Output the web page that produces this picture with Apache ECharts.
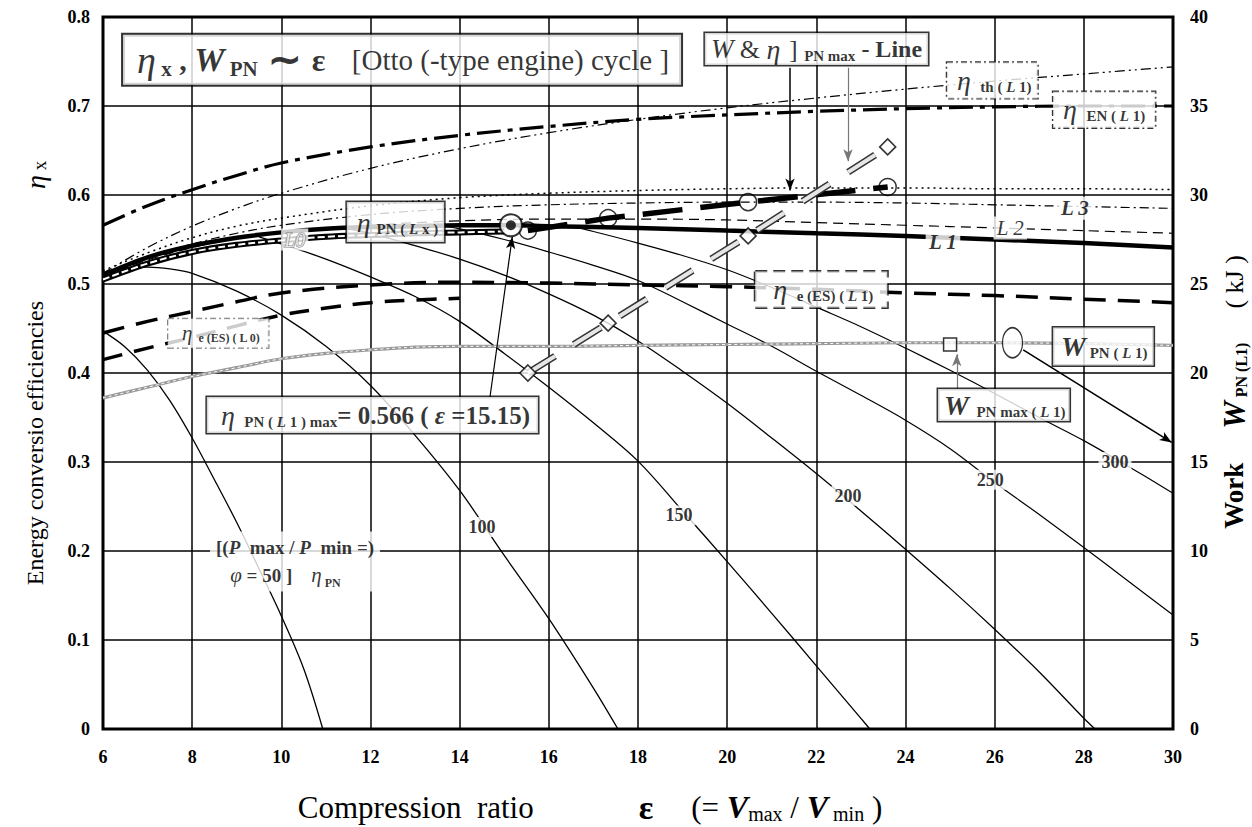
<!DOCTYPE html>
<html><head><meta charset="utf-8">
<script src="https://cdn.jsdelivr.net/npm/echarts@6/dist/echarts.min.js"></script>
<style>html,body{margin:0;padding:0;background:#fff}#c{width:1252px;height:827px}</style>
</head><body><div id="c"></div>
<script>
// ---------- axes ----------
const xMin = 6, xMax = 30, xStep = 2;
const etaMin = 0, etaMax = 0.8, etaStep = 0.1;
const wMin = 0, wMaxAxis = 40, wStep = 5;

// ---------- curves [epsilon, value] ----------
const etaTh = [[6,0.512],[7,0.541],[8,0.565],[9,0.585],[10,0.602],[12,0.630],[14,0.652],[16,0.670],[18,0.685],[20,0.698],[22,0.709],[24,0.719],[26,0.728],[28,0.736],[30,0.744]];
const etaEN = [[6,0.566],[7,0.588],[8,0.606],[9,0.622],[10,0.636],[12,0.654],[14,0.667],[16,0.677],[18,0.685],[20,0.690],[22,0.694],[24,0.697],[26,0.699],[28,0.700],[30,0.700]];
const pnTop = [[6,0.515],[7,0.535],[8,0.552],[9,0.565],[10,0.574],[12,0.588],[14,0.597],[16,0.602],[18,0.605],[20,0.607],[22,0.608],[24,0.608],[26,0.607],[28,0.607],[30,0.606]];
const pnL3 = [[6,0.510],[7,0.530],[8,0.545],[9,0.557],[10,0.566],[12,0.578],[14,0.585],[16,0.589],[18,0.591],[20,0.592],[22,0.592],[24,0.591],[26,0.589],[28,0.587],[30,0.585]];
const pnL2 = [[6,0.510],[7,0.527],[8,0.541],[9,0.551],[10,0.558],[12,0.566],[14,0.571],[16,0.573],[18,0.573],[20,0.572],[22,0.569],[24,0.566],[26,0.563],[28,0.560],[30,0.557]];
const pnL1 = [[6,0.510],[7,0.530],[8,0.543],[9,0.552],[10,0.558],[11,0.562],[12,0.564],[13,0.565],[14,0.566],[15.15,0.566],[16,0.565],[18,0.563],[20,0.560],[22,0.557],[24,0.554],[26,0.550],[28,0.546],[30,0.541]];
const pnLx = [[6,0.505],[7,0.523],[8,0.536],[9,0.544],[10,0.549],[11,0.553],[12,0.555],[13,0.557],[14,0.558],[15,0.559]];
const eES1 = [[6,0.445],[7,0.458],[8,0.469],[9,0.480],[10,0.490],[12,0.499],[14,0.502],[16,0.501],[18,0.499],[20,0.497],[22,0.494],[24,0.490],[26,0.487],[28,0.483],[30,0.479]];
const eES0 = [[6,0.415],[7,0.428],[8,0.440],[9,0.453],[10,0.465],[11,0.473],[12,0.479],[13,0.482],[14,0.484]];
const wPN = [[6,18.6],[7,19.2],[8,19.8],[9,20.3],[10,20.8],[11,21.1],[12,21.3],[13,21.45],[14,21.5],[16,21.5],[18,21.55],[20,21.6],[22,21.65],[24,21.7],[25,21.7],[26,21.7],[28,21.65],[30,21.55]];
const phi50 = [[6,0.447],[6.5,0.429],[7,0.403],[7.5,0.369],[8,0.327],[8.5,0.280],[9,0.232],[9.5,0.180],[10,0.127],[10.5,0.068],[10.93,0]];
const phi100 = [[6,0.513],[6.5,0.518],[7,0.519],[7.5,0.517],[8,0.512],[9,0.492],[10,0.465],[11,0.430],[12,0.386],[13,0.330],[14,0.268],[15,0.195],[16,0.124],[17,0.046],[17.55,0]];
const phi150 = [[9.5,0.553],[10,0.545],[11,0.528],[12,0.508],[13,0.486],[14,0.458],[15,0.422],[16,0.384],[17,0.344],[18,0.301],[19,0.245],[20,0.188],[21,0.130],[22,0.071],[23,0.012],[23.2,0]];
const phi200 = [[11.5,0.562],[12,0.557],[13,0.543],[14,0.528],[15,0.510],[16,0.489],[17,0.465],[18,0.436],[19,0.402],[20,0.366],[21,0.327],[22,0.287],[23,0.245],[24,0.202],[25,0.158],[26,0.112],[27,0.064],[28,0.012],[28.25,0]];
const phi250 = [[13.5,0.566],[14,0.562],[15,0.550],[16,0.536],[17,0.521],[18,0.504],[19,0.480],[20,0.455],[21,0.430],[22,0.402],[23,0.375],[24,0.347],[25,0.315],[26,0.277],[27,0.241],[28,0.204],[29,0.166],[30,0.128]];
const phi300 = [[16.5,0.565],[17,0.559],[18,0.546],[19,0.532],[20,0.516],[21,0.496],[22,0.474],[23,0.452],[24,0.428],[25,0.403],[26,0.377],[27,0.350],[28,0.324],[29,0.295],[30,0.265]];

// ---------- marked points ----------
const etaMaxPts = [[15.53,0.560],[17.33,0.574],[20.47,0.592],[23.60,0.609]];
const wMaxPts = [[15.53,20.0],[17.33,22.8],[20.47,27.7],[23.60,32.7]];
const etaL1Max = [[15.15,0.566]];
const wPNmaxPt = [[25.0,21.6]];
const wPNmark = [[26.4,21.7]];
const phiLabels = ['100','150','200','250','300'];

const SERIF = 'Liberation Serif';
const K = '#000';

function curve(data, ls, extra) {
  return Object.assign({type:'line', data, symbol:'none', showSymbol:false, smooth:0.35, silent:true, z:3,
    lineStyle:Object.assign({color:K, width:1.3, cap:'butt'}, ls)}, extra || {});
}
function tok(size, opt) { return Object.assign({fontFamily:SERIF, fontSize:size, color:K}, opt || {}); }
const R = {
  eta: tok(28, {fontStyle:'italic', padding:[0,2,0,0]}),
  sub: tok(15, {fontWeight:'bold', verticalAlign:'bottom'}),
  subi: tok(15, {fontWeight:'bold', fontStyle:'italic', verticalAlign:'bottom'}),
  Wi: tok(28, {fontStyle:'italic', fontWeight:'bold'}),
  Wi2: tok(27, {fontStyle:'italic'}),
  big: tok(25, {fontWeight:'bold'}),
  bigi: tok(25, {fontWeight:'bold', fontStyle:'italic'}),
  line: tok(24, {fontWeight:'bold'}),
  reg: tok(26),
  eta3: tok(38, {fontStyle:'italic'}),
  sub3: tok(21, {fontWeight:'bold', verticalAlign:'bottom'}),
  W3: tok(34, {fontStyle:'italic', fontWeight:'bold'}),
  com: tok(30, {fontWeight:'bold'}),
  tilde: tok(40, {fontWeight:'bold'}),
  eps: tok(32, {fontWeight:'bold', padding:[0,12,0,0]}),
  reg2: tok(29),
  num: tok(18, {fontWeight:'bold'}),
  lab: tok(21, {fontWeight:'bold', fontStyle:'italic'}),
  lab2: tok(21, {fontStyle:'italic'}),
  hollow: tok(20, {fontStyle:'italic', color:'#fff', textBorderColor:'#666', textBorderWidth:1.2}),
  pb: tok(19, {fontWeight:'bold'}),
  pbi: tok(19, {fontWeight:'bold', fontStyle:'italic'}),
  phi: tok(21, {fontStyle:'italic'}),
  e4: tok(21, {fontStyle:'italic'}),
  s4: tok(12, {fontWeight:'bold', verticalAlign:'bottom'})
};
function box(pos, text, opt) {
  return {value:pos, symbolSize:0, label:Object.assign({show:true, position:[0,0], align:'left', verticalAlign:'top',
    formatter:text, backgroundColor:'#fff', borderColor:K, borderWidth:1.5, padding:[3,10,3,10], rich:R}, opt || {})};
}
function tag(pos, text, opt) {
  return {value:pos, symbolSize:0, label:Object.assign({show:true, position:'inside', align:'center', verticalAlign:'middle',
    formatter:text, backgroundColor:'#fff', padding:[1,3,1,3], rich:R}, opt || {})};
}
const dashDot = [6,3,2,3];

const annotations = [
  box([6.45,0.780], '{eta3|η}{sub3| x}{com| , }{W3|W}{sub3| PN}{tilde| ∼ }{eps|ε}{reg2|  [Otto (-type engine) cycle ]}', {padding:[5,12,5,14], borderWidth:2}),
  box([19.50,0.782], '{Wi2|W}{reg| & }{eta|η}{reg| ] }{sub|PN max}{line| - Line}', {padding:[2,6,2,6]}),
  box([24.93,0.749], '{eta|η}{sub|  th ( }{subi|L}{sub| 1)}', {borderType:dashDot, borderWidth:1.2, padding:[4,6,4,10]}),
  box([27.31,0.716], '{eta|η}{sub|  EN ( }{subi|L}{sub| 1)}', {borderType:dashDot, borderWidth:1.2, padding:[4,10,4,10]}),
  box([11.47,0.592], '{eta|η}{sub| PN ( }{subi|L}{sub| x )}', {padding:[6,6,6,10]}),
  box([20.63,0.514], '{eta|η}{sub|  e (ES) ( }{subi|L}{sub| 1)}', {borderType:'dashed', borderWidth:1.5, padding:[4,14,4,18]}),
  box([7.46,0.461], '{e4|η}{s4|  e (ES) ( }{s4|L 0)}', {borderType:dashDot, borderWidth:1, borderColor:'#555', padding:[4,8,4,14]}),
  box([8.33,0.373], '{eta|η}{sub|  PN ( }{subi|L}{sub| 1 ) max}{big|= 0.566 ( }{bigi|ε}{big| =15.15)}', {padding:[4,8,4,14]}),
  box([27.31,0.451], '{Wi|W}{sub| PN ( }{subi|L}{sub| 1)}', {padding:[5,6,5,8]}),
  box([24.73,0.382], '{Wi|W}{sub|  PN max ( }{subi|L}{sub| 1)}', {padding:[2,4,2,6]}),
  box([8.40,0.222], '{pb|[(}{pbi|P}{pb|  max / }{pbi|P}{pb|  min =)}\n{pb|   }{phi|φ}{pb| = 50 ]    }{e4|η}{s4| PN}', {borderWidth:0, padding:[2,6,2,6], lineHeight:28}),
  tag([14.5,0.227], '{num|' + phiLabels[0] + '}'),
  tag([18.92,0.240], '{num|' + phiLabels[1] + '}'),
  tag([22.71,0.262], '{num|' + phiLabels[2] + '}'),
  tag([25.9,0.280], '{num|' + phiLabels[3] + '}'),
  tag([28.7,0.300], '{num|' + phiLabels[4] + '}'),
  tag([24.84,0.547], '{lab|L 1}'),
  tag([26.35,0.563], '{lab2|L 2}'),
  tag([27.8,0.585], '{lab|L 3}'),
  tag([10.3,0.550], '{hollow|L0}', {backgroundColor:'#fff'})
];

function arrow(a, b, color, w) {
  return [{coord:a, symbol:'none', lineStyle:{color:color, width:w, type:'solid'}}, {coord:b, symbol:'arrow', symbolSize:[7,12]}];
}

const series = [
  curve(phi50, {width:1.3}), curve(phi100, {width:1.3}), curve(phi150, {width:1.3}),
  curve(phi200, {width:1.3}), curve(phi250, {width:1.2}), curve(phi300, {width:1.2}),
  curve(etaTh, {width:1.2, type:[10,4,2,4,2,4]}),
  curve(etaEN, {width:3.2, type:[24,7,5,7]}),
  curve(pnTop, {width:1.5, type:[2,4]}),
  curve(pnL3, {width:1.2, type:[9,4,2,4]}),
  curve(pnL2, {width:1.2, type:[10,6]}),
  curve(eES1, {width:3.5, type:[22,12]}),
  curve(eES0, {width:3.5, type:[20,12]}),
  curve(wPN, {width:3.2, color:'#9a9a9a', type:'solid'}, {yAxisIndex:1}),
  curve(wPN, {width:1, color:'#fff', type:[3,3]}, {yAxisIndex:1}),
  curve(pnLx, {width:6}),
  curve(pnLx, {width:2, color:'#fff', type:[7,3]}),
  curve(pnL1, {width:4.5}),
  curve(etaMaxPts, {width:5.5, type:[40,18]}, {smooth:false}),
  curve(wMaxPts, {width:7, color:'#333', type:[32,22]}, {smooth:false, yAxisIndex:1, z:4}),
  curve(wMaxPts, {width:4, color:'#e6e6e6', type:[32,22]}, {smooth:false, yAxisIndex:1, z:4}),
  {type:'scatter', data:etaMaxPts, symbol:'circle', symbolSize:17, silent:true, z:6,
   itemStyle:{color:'rgba(255,255,255,0)', borderColor:K, borderWidth:1.5}},
  {type:'scatter', data:wMaxPts, yAxisIndex:1, symbol:'diamond', symbolSize:16, silent:true, z:6,
   itemStyle:{color:'#fff', borderColor:K, borderWidth:1.6}},
  {type:'scatter', data:etaL1Max, symbol:'circle', symbolSize:22, silent:true, z:6,
   itemStyle:{color:'#fff', borderColor:K, borderWidth:2}},
  {type:'scatter', data:etaL1Max, symbol:'circle', symbolSize:10, silent:true, z:7, itemStyle:{color:K}},
  {type:'scatter', data:wPNmaxPt, yAxisIndex:1, symbol:'rect', symbolSize:13, silent:true, z:6,
   itemStyle:{color:'#fff', borderColor:K, borderWidth:1.5}},
  {type:'scatter', data:wPNmark, yAxisIndex:1, symbol:'circle', symbolSize:[20,30], silent:true, z:6,
   itemStyle:{color:'#fff', borderColor:K, borderWidth:1.5}},
  {type:'scatter', data:annotations, symbol:'circle', symbolSize:0, silent:true, z:20,
   itemStyle:{color:'rgba(0,0,0,0)'},
   markLine:{silent:true, animation:false, label:{show:false}, symbol:['none','arrow'],
     data:[
       arrow([14.68,0.373],[15.18,0.553], K, 1.2),
       arrow([21.41,0.743],[21.41,0.605], K, 1.5),
       arrow([22.71,0.743],[22.71,0.638], '#777', 1.2),
       arrow([25.15,0.382],[25.15,0.421], '#777', 1.2),
       arrow([26.64,0.426],[29.97,0.322], K, 1.6)
     ]}}
];

const axisLab = {fontFamily:SERIF, fontWeight:'bold', fontSize:18, color:K};
const option = {
  animation:false,
  backgroundColor:'#fff',
  grid:{left:103, right:79, top:17, bottom:98, show:true, borderColor:K, borderWidth:3, backgroundColor:'transparent',
    outerBoundsMode:'none', containLabel:false},
  xAxis:{type:'value', min:xMin, max:xMax, interval:xStep,
    axisLine:{show:false}, axisTick:{show:false},
    splitLine:{show:true, lineStyle:{color:K, width:1.5}},
    axisLabel:Object.assign({margin:19}, axisLab),
    name:'{t|Compression  ratio}{sp|}{e|ε}{sp2|}{t|(= }{v|V}{s|max}{t| / }{v|V}{s| min}{t| )}',
    nameLocation:'middle', nameGap:61,
    nameTextStyle:{padding:[0,96,0,0], rich:{
      t:tok(31), sp:tok(31, {width:105}), sp2:tok(31, {width:38}), e:tok(34, {fontWeight:'bold'}),
      v:tok(32, {fontStyle:'italic', fontWeight:'bold'}), s:tok(20, {verticalAlign:'bottom'})}}
  },
  yAxis:[
    {type:'value', min:etaMin, max:etaMax, interval:etaStep,
     axisLine:{show:false}, axisTick:{show:false},
     splitLine:{show:true, lineStyle:{color:K, width:1.5}},
     axisLabel:Object.assign({margin:13, formatter:v => v === 0 ? '0' : v.toFixed(1)}, axisLab),
     name:'{t|Energy conversio efficiencies}{sp| }{e|η}{s| x}', nameLocation:'middle', nameGap:54, nameRotate:90,
     nameTextStyle:{rich:{t:tok(24), sp:tok(24, {width:112}), e:tok(28, {fontStyle:'italic'}), s:tok(19, {verticalAlign:'bottom'})}}
    },
    {type:'value', min:wMin, max:wMaxAxis, interval:wStep, position:'right',
     axisLine:{show:false}, axisTick:{show:false}, splitLine:{show:false},
     axisLabel:Object.assign({margin:17}, axisLab),
     name:'{w|Work}{sp| }{W|W}{s| PN (L1)}{sp| }{k|( kJ )}', nameLocation:'middle', nameGap:33, nameRotate:90,
     nameTextStyle:{padding:[0,38,0,0], rich:{w:tok(27, {fontWeight:'bold'}), sp:tok(20, {width:34}),
       W:tok(31, {fontWeight:'bold', fontStyle:'italic'}), s:tok(16, {fontWeight:'bold', verticalAlign:'bottom'}), k:tok(26)}}
    }
  ],
  series:series
};
const chart = echarts.init(document.getElementById('c'), null, {renderer:'svg', width:1252, height:827});
chart.setOption(option);
</script>
</body></html>
